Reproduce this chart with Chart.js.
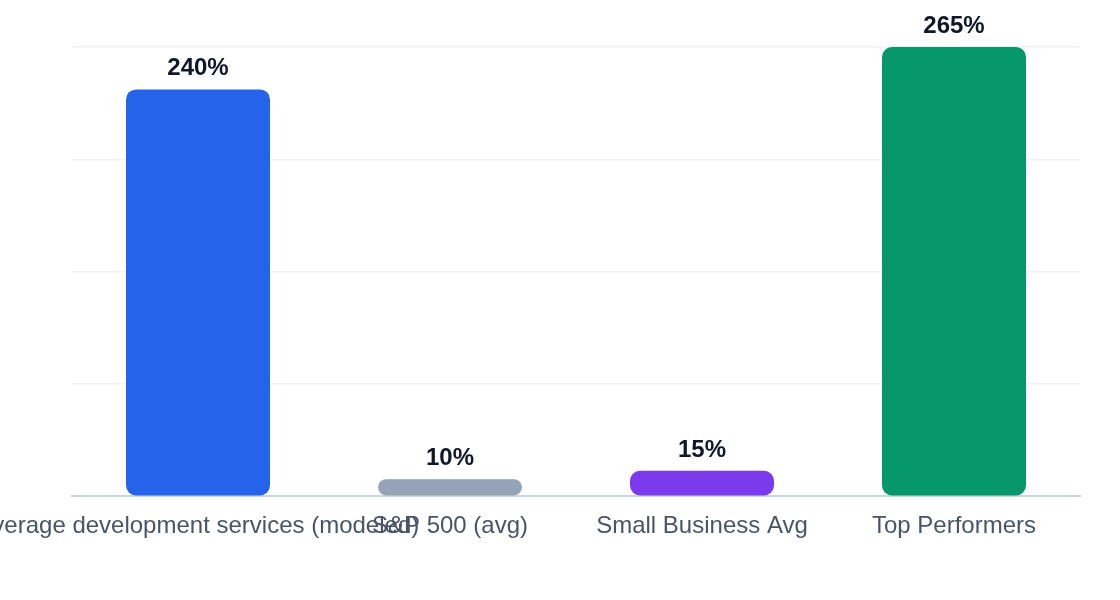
<!DOCTYPE html>
<html>
<head>
<meta charset="utf-8">
<script src="https://cdn.jsdelivr.net/npm/chart.js@4.4.1/dist/chart.umd.min.js"></script>
<style>
  html, body { margin: 0; padding: 0; background: #ffffff; }
  #wrap { width: 1120px; height: 600px; position: relative; }
</style>
</head>
<body>
<div id="wrap"><canvas id="c"></canvas></div>
<script>
const categories = ["Average development services (modeled)", "S&P 500 (avg)", "Small Business Avg", "Top Performers"];
const values = [240, 10, 15, 265];
const barColors = ["#2563eb", "#94a3b8", "#7c3aed", "#059669"];
const valueSuffix = "%";

const FONT = '"Liberation Sans", Arial, Helvetica, sans-serif';

const valueLabels = {
  id: 'valueLabels',
  afterDatasetsDraw(chart) {
    const ctx = chart.ctx;
    const meta = chart.getDatasetMeta(0);
    ctx.save();
    ctx.font = 'bold 24px ' + FONT;
    ctx.fillStyle = '#0f172a';
    ctx.textAlign = 'center';
    ctx.textBaseline = 'alphabetic';
    meta.data.forEach((el, i) => {
      ctx.fillText(values[i] + valueSuffix, el.x, el.y - 14);
    });
    ctx.restore();
  }
};

new Chart(document.getElementById('c'), {
  type: 'bar',
  data: {
    labels: categories,
    datasets: [{
      data: values,
      backgroundColor: barColors,
      borderRadius: 10,
      borderSkipped: false,
      barPercentage: 0.5714,
      categoryPercentage: 1.0
    }]
  },
  options: {
    responsive: true,
    maintainAspectRatio: false,
    animation: false,
    devicePixelRatio: 1,
    layout: { padding: { left: 72, right: 40, top: 47, bottom: 43 } },
    plugins: {
      legend: { display: false },
      tooltip: { enabled: false }
    },
    scales: {
      x: {
        grid: { display: false, drawTicks: false },
        border: { display: true, color: '#cbd5e1', width: 2 },
        ticks: {
          color: '#475569',
          font: { family: FONT, size: 24 },
          padding: 16,
          maxRotation: 0,
          autoSkip: false
        },
        afterFit(scale) { scale.paddingLeft = 0; scale.paddingRight = 0; }
      },
      y: {
        min: 0,
        max: 265,
        grid: { color: '#edf1f5', lineWidth: 1.5, drawTicks: false },
        border: { display: false },
        ticks: { display: false, count: 5 }
      }
    }
  },
  plugins: [valueLabels]
});
</script>
</body>
</html>
